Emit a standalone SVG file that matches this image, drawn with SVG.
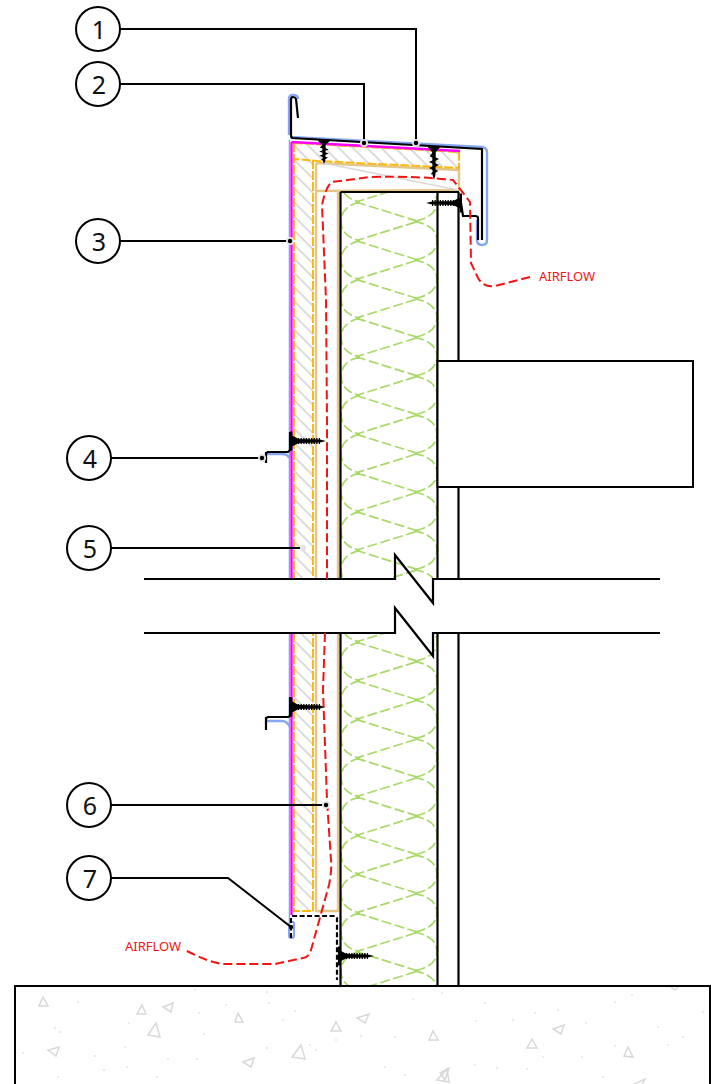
<svg xmlns="http://www.w3.org/2000/svg" xmlns:xlink="http://www.w3.org/1999/xlink" width="711" height="1084" viewBox="0 0 711 1084">
<style>
.k{fill:none;stroke:#000;stroke-width:2.2}
.l{fill:none;stroke:#000;stroke-width:2}
.bl{fill:none;stroke:#86a6f5;stroke-width:2.4;stroke-linejoin:round}
.bv{fill:none;stroke:#86a6f5;stroke-width:1.4}
.mg{fill:none;stroke:#f0f;stroke-width:2.4}
.or{fill:none;stroke:#fdb913;stroke-width:2;stroke-dasharray:9 2}
.tn{fill:none;stroke:#e2c788;stroke-width:2.4}
.ins{fill:none;stroke:#a7da68;stroke-width:1.7;stroke-dasharray:10 3.5}
.air{fill:none;stroke:#f01414;stroke-width:2;stroke-dasharray:9 4}
.tri{fill:none;stroke:#d8d8d8;stroke-width:1.5}
.dot{fill:#c8c8c8}
.c{fill:#fff;stroke:#000;stroke-width:2}
.n{font:25px "Noto Sans",sans-serif;fill:#111;text-anchor:middle}
.a{font:13px "Noto Sans",sans-serif;fill:#f01414}
</style>
<defs>
<pattern id="h" width="10" height="10" patternUnits="userSpaceOnUse" patternTransform="rotate(45)"><rect width="10" height="10" fill="#fff"/><line x1="0" y1="5" x2="10" y2="5" stroke="#dcdcdc" stroke-width="2"/></pattern>
<clipPath id="c1"><rect x="340" y="192" width="99" height="387"/></clipPath>
<clipPath id="c2"><rect x="340" y="633" width="99" height="352"/></clipPath>
<path id="cell" class="ins" d="M356,0 L418,19.35 L356,38.7 M360,0 C347,3 341,10 341,19.35 C341,29 347,36 360,38.7 M414,19.35 C430,22 437,29 437,38.7 C437,48 430,55 414,58"/>
<g id="screw">
<path d="M0,-9.5H2.4V9.5H0Z M2,-5.5 L8,-2.6 L8,2.6 L2,5.5Z M8,-2 L30,-1.6 L36,0 L30,1.6 L8,2Z" fill="#000"/>
<line x1="8" y1="0" x2="30" y2="0" stroke="#000" stroke-width="6" stroke-dasharray="1.3 1.3"/>
</g>
<g id="vscrew">
<path d="M-7,-1 H7 L2,5 L-2,5Z M-1.8,4 L1.8,4 L1.4,28 L0,33 L-1.4,28Z" fill="#000"/>
<path d="M0,5 L-3,9 L3,12 L-3,15 L3,18 L-3,21 L2.5,24 L-2.5,27" fill="none" stroke="#000" stroke-width="1.8"/>
</g>
</defs>

<g id="slab">
<g id="aggregate">
<polygon class="tri" points="43,997 48,1006 39,1006"/>
<polygon class="tri" points="142,1005 146,1014 137,1014"/>
<polygon class="tri" points="173,1003 171,1012 163,1007"/>
<polygon class="tri" points="238,1013 243,1022 235,1022"/>
<polygon class="tri" points="156,1023 160,1037 148,1035"/>
<polygon class="tri" points="59,1047 56,1056 48,1050"/>
<polygon class="tri" points="336,1022 341,1031 331,1031"/>
<polygon class="tri" points="369,1014 365,1023 357,1018"/>
<polygon class="tri" points="433,1031 438,1040 429,1040"/>
<polygon class="tri" points="564,1025 561,1034 553,1029"/>
<polygon class="tri" points="532,1039 537,1048 527,1048"/>
<polygon class="tri" points="628,1047 633,1057 624,1056"/>
<polygon class="tri" points="301,1045 305,1059 292,1057"/>
<polygon class="tri" points="254,1058 251,1067 243,1062"/>
<polygon class="tri" points="447,1069 449,1082 437,1080"/>
<polygon class="tri" points="449,1068 445,1080 440,1073"/>
<polygon class="tri" points="645,1079 640,1088 634,1084"/>
<path class="tri" d="M678,987 L675,990 L671,987"/>
<g class="dot">
<circle cx="78" cy="1002" r=".7"/><circle cx="195" cy="990" r=".7"/><circle cx="267" cy="992" r=".7"/><circle cx="269" cy="1003" r=".7"/><circle cx="226" cy="1005" r=".7"/><circle cx="199" cy="1013" r=".7"/><circle cx="295" cy="1011" r=".7"/><circle cx="283" cy="1020" r=".7"/><circle cx="129" cy="1023" r=".7"/><circle cx="55" cy="1028" r=".7"/><circle cx="60" cy="1032" r=".7"/><circle cx="204" cy="1034" r=".7"/><circle cx="361" cy="1036" r=".7"/><circle cx="395" cy="1037" r=".7"/><circle cx="336" cy="1040" r=".7"/><circle cx="23" cy="1053" r=".7"/><circle cx="125" cy="1047" r=".7"/><circle cx="95" cy="1056" r=".7"/><circle cx="168" cy="1059" r=".7"/><circle cx="197" cy="1059" r=".7"/><circle cx="267" cy="1048" r=".7"/><circle cx="310" cy="1045" r=".7"/><circle cx="316" cy="1050" r=".7"/><circle cx="104" cy="1070" r=".7"/><circle cx="127" cy="1067" r=".7"/><circle cx="157" cy="1077" r=".7"/><circle cx="58" cy="1077" r=".7"/><circle cx="385" cy="1067" r=".7"/><circle cx="405" cy="1075" r=".7"/><circle cx="475" cy="1065" r=".7"/><circle cx="497" cy="1068" r=".7"/><circle cx="527" cy="1069" r=".7"/><circle cx="603" cy="1077" r=".7"/><circle cx="485" cy="1003" r=".7"/><circle cx="413" cy="999" r=".7"/><circle cx="442" cy="993" r=".7"/><circle cx="535" cy="1013" r=".7"/><circle cx="558" cy="1010" r=".7"/><circle cx="615" cy="1002" r=".7"/><circle cx="632" cy="995" r=".7"/><circle cx="658" cy="1027" r=".7"/><circle cx="586" cy="1023" r=".7"/><circle cx="513" cy="1020" r=".7"/><circle cx="476" cy="1021" r=".7"/><circle cx="683" cy="1037" r=".7"/><circle cx="668" cy="1045" r=".7"/><circle cx="582" cy="1057" r=".7"/><circle cx="615" cy="1046" r=".7"/><circle cx="543" cy="1057" r=".7"/><circle cx="703" cy="1012" r=".7"/></g>
</g>
<rect x="15" y="986" width="695" height="110" fill="none" stroke="#000" stroke-width="2"/>
</g>

<g id="cladding-top">
<polygon points="293,143 459,152 459,168 317,161 313,161 313,579 293,579" fill="url(#h)"/>
<rect x="293" y="633" width="20" height="278" fill="url(#h)"/>
</g>

<g id="insulation-upper" clip-path="url(#c1)">
<use xlink:href="#cell" href="#cell" y="163.3"/><use xlink:href="#cell" href="#cell" y="202"/><use xlink:href="#cell" href="#cell" y="240.7"/><use xlink:href="#cell" href="#cell" y="279.4"/><use xlink:href="#cell" href="#cell" y="318.1"/><use xlink:href="#cell" href="#cell" y="356.8"/><use xlink:href="#cell" href="#cell" y="395.5"/><use xlink:href="#cell" href="#cell" y="434.2"/><use xlink:href="#cell" href="#cell" y="472.9"/><use xlink:href="#cell" href="#cell" y="511.6"/><use xlink:href="#cell" href="#cell" y="550.3"/>
</g>
<g id="insulation-lower" clip-path="url(#c2)">
<use xlink:href="#cell" href="#cell" y="603.3"/><use xlink:href="#cell" href="#cell" y="642"/><use xlink:href="#cell" href="#cell" y="680.7"/><use xlink:href="#cell" href="#cell" y="719.4"/><use xlink:href="#cell" href="#cell" y="758.1"/><use xlink:href="#cell" href="#cell" y="796.8"/><use xlink:href="#cell" href="#cell" y="835.5"/><use xlink:href="#cell" href="#cell" y="874.2"/><use xlink:href="#cell" href="#cell" y="912.9"/><use xlink:href="#cell" href="#cell" y="951.6"/>
</g>

<g id="wall">
<path class="tn" d="M316,191 V579 M338,191 V579 M316,633 V911 H338 V633 M316,163 L459,170 V190 L316,191 V163"/>
<line x1="323" y1="163" x2="458" y2="190" stroke="#d8d8d8" stroke-width="1.4"/>
<path class="k" d="M340.5,192 H459 M340.5,192 V579 M437.5,192 V579 M458.5,192 V361 M458.5,487 V579 M340.5,633 V986 M437.5,633 V986 M458.5,633 V986"/>
<rect x="437.5" y="361" width="255.5" height="126" fill="#fff" stroke="#000" stroke-width="2"/>
</g>

<g id="layers">
<path class="or" d="M294,143 L459,152 V168 L317,161 L295,159 M294,143 V579 M313,160 V579 M294,633 V911 H313 V633"/>
<path class="mg" d="M291.5,142 L460,151 M291.5,142 V579 M291.5,633 V915"/>
<path class="bv" d="M289.4,140 V579 M289.4,633 V922"/>
</g>

<g id="flashing">
<path class="bl" d="M289,135 V99 Q289,95 293,95 Q298,95 298,99 M290,137 L482,147 Q487,148 487,152 V240 Q487,245 482,245 Q477,245 477,240 V220"/>
<path class="k" d="M298,118 L296,99 Q295,97 293,97 Q291,97 291,100 V136 L292,138 L482,149 V240 M478,240 V218 Q478,216 475,216 H463 L461,203"/>
<path d="M290,922 H293 Q294,922 294,924 V936 Q294,938 291.5,938 Q289,938 289,936 V924Z" fill="none" stroke="#86a6f5" stroke-width="2"/>
<path class="k" stroke-dasharray="5 2.5" d="M291,938 V917 L292,916 H335 L337,918 V980"/>
<path class="bl" d="M266,454 H282 Q288,454 289,458 M266,721 H282 Q287,721 290,727"/>
<path class="k" stroke-width="2.6" d="M290,432 V450 L288,452 H268 L266,453 V463 M290,697 V716 L288,717 H268 L266,718 V730"/>
</g>

<g id="screws">
<use xlink:href="#screw" href="#screw" transform="translate(290,441)"/>
<use xlink:href="#screw" href="#screw" transform="translate(290,707)"/>
<use xlink:href="#screw" href="#screw" transform="translate(462,203) scale(-1,1)"/>
<use xlink:href="#screw" href="#screw" transform="translate(338,956)"/>
<use xlink:href="#vscrew" href="#vscrew" transform="translate(324,141) scale(.95,.7)"/>
<use xlink:href="#vscrew" href="#vscrew" transform="translate(434,147)"/>
</g>

<g id="break-lines">
<path class="k" fill="none" d="M144,579 H395 V555 L433,603 V579 H660"/>
<path class="k" fill="none" d="M144,633 H395 V608 L433,656 V633 H660"/>
</g>

<g id="airflow">
<path class="air" d="M530,277 L495,286 Q484,288 478,278 L471,263 L470,202 L453,180 Q420,176 370,177 L332,182 Q326,186 322,205 L326,300 L327,420 V579"/>
<path class="air" d="M325,633 L323,690 L327,800 L331,860 Q332,870 329,885 L311,950 Q309,957 303,958 L275,964 H222 Q208,962 185,950"/>
<text class="a" x="539" y="281">AIRFLOW</text>
<text class="a" x="125" y="951">AIRFLOW</text>
</g>

<g id="connectors">
<path class="l" d="M120,29 H416 V143"/>
<path class="l" d="M120,84 H364 V143"/>
<path class="l" d="M120,241 H290"/>
<path class="l" d="M111,458 H262"/>
<path class="l" d="M111,548 H303"/>
<path class="l" d="M111,805 H326"/>
<path class="l" d="M111,878 H228 L291,927"/>
<g fill="#e4e4e4"><circle cx="416" cy="143" r="4"/><circle cx="364" cy="143" r="4"/><circle cx="290" cy="241" r="4"/><circle cx="262" cy="458" r="4"/><circle cx="303" cy="548" r="3.2"/><circle cx="326" cy="805" r="4"/></g>
<g fill="#000"><circle cx="416" cy="143" r="2.2"/><circle cx="364" cy="143" r="2.2"/><circle cx="290" cy="241" r="2.2"/><circle cx="262" cy="458" r="2.2"/><circle cx="326" cy="805" r="2.2"/><circle cx="291" cy="927" r="2.2"/></g>
</g>

<g id="n1"><circle class="c" cx="98" cy="29" r="22"/><text class="n" x="99" y="39">1</text></g>
<g id="n2"><circle class="c" cx="98" cy="84" r="22"/><text class="n" x="99" y="94">2</text></g>
<g id="n3"><circle class="c" cx="98" cy="241" r="22"/><text class="n" x="99" y="251">3</text></g>
<g id="n4"><circle class="c" cx="89" cy="458" r="22"/><text class="n" x="90" y="468">4</text></g>
<g id="n5"><circle class="c" cx="89" cy="548" r="22"/><text class="n" x="90" y="558">5</text></g>
<g id="n6"><circle class="c" cx="89" cy="805" r="22"/><text class="n" x="90" y="815">6</text></g>
<g id="n7"><circle class="c" cx="89" cy="878" r="22"/><text class="n" x="90" y="888">7</text></g>
</svg>
